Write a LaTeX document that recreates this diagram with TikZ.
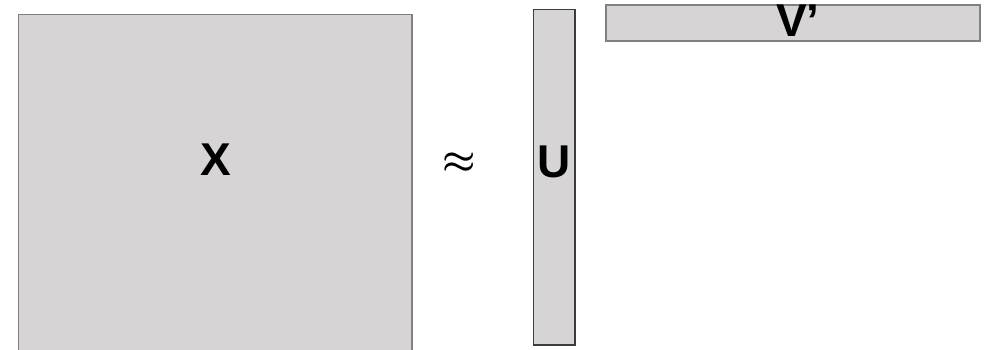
\documentclass[tikz,border=0pt]{standalone}
\usepackage{fontspec}
\setmainfont{Liberation Sans}
\usepackage{xcolor}
\definecolor{cellfill}{HTML}{D6D4D5}
\definecolor{cellline}{HTML}{808080}
\definecolor{celldark}{HTML}{3C3C3C}
\begin{document}
\begin{tikzpicture}[x=1pt, y=-1pt,
      mat/.style={draw=cellline, fill=cellfill, line width=1.5pt, inner sep=0pt},
      lbl/.style={font=\fontsize{46}{46}\selectfont\bfseries, inner sep=0pt}
    ]
    \useasboundingbox (0,0) rectangle (985,349);
    % matrices
    \node[mat, minimum width=393.5pt, minimum height=346pt] (xmat) at (215.25,187.5) {};
    \node[mat, draw=celldark, minimum width=41.5pt, minimum height=335.5pt] (umat) at (554.25,177.25) {};
    \node[mat, minimum width=374pt, minimum height=36pt] (vmat) at (793,23) {};

    % labels
    \node[lbl] (xlbl) at (216,160) {X};
    \node[font=\Huge\boldmath, scale=1.5, inner sep=0pt] (approx) at (459,163) {$\approx$};
    \node[lbl] (ulbl) at (554,162) {U};
    \node[lbl] (vlbl) at (798,21) {V’};
  \end{tikzpicture}
\end{document}
